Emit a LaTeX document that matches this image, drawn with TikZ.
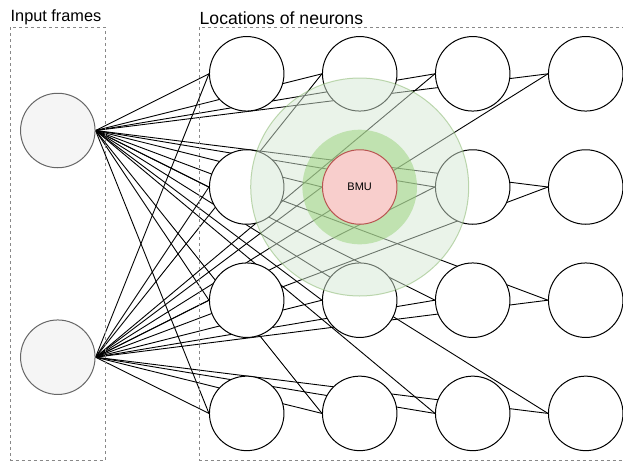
\documentclass[tikz,border=0pt]{standalone}
\usepackage{fontspec}
\setmainfont{Liberation Sans}
\usetikzlibrary{backgrounds}
\definecolor{inputfill}{HTML}{F5F5F5}
\definecolor{inputline}{HTML}{666666}
\definecolor{framegray}{HTML}{888888}
\definecolor{zonefill}{HTML}{D5E8D4}
\definecolor{zoneline}{HTML}{82B366}
\definecolor{corefill}{HTML}{97D077}
\definecolor{bmufill}{HTML}{F8CECC}
\definecolor{bmuline}{HTML}{B85450}
\begin{document}
\begin{tikzpicture}[x=1pt,y=-1pt,
  neuron/.style={circle,draw=black,fill=white,line width=1pt,minimum size=74.5pt,inner sep=0pt},
  inputcell/.style={circle,draw=inputline,fill=inputfill,line width=1pt,minimum size=74.5pt,inner sep=0pt},
  bmucell/.style={circle,draw=bmuline,fill=bmufill,line width=1pt,minimum size=74.5pt,inner sep=0pt,
    font=\fontsize{11}{13}\selectfont},
  link/.style={draw=black,line width=0.9pt},
  groupbox/.style={draw=framegray,line width=1pt,dash pattern=on 3pt off 3pt},
  caption/.style={anchor=base west,inner sep=0pt},
  zone/.style={circle,fill=zonefill,draw=zoneline,line width=1pt,opacity=0.5,inner sep=0pt},
  core/.style={circle,fill=corefill,draw=none,opacity=0.5,inner sep=0pt}]
\useasboundingbox (0,0) rectangle (623,461);

% group frames and their titles
\draw[groupbox] (10.5,27) rectangle (105,460);
\draw[groupbox] (199.5,27) rectangle (630,460);
\node[caption,font=\fontsize{16.3}{19}\selectfont] (t1) at (10.5,21.7) {Input frames};
\node[caption,font=\fontsize{17.6}{20}\selectfont] (t2) at (199.5,24) {Locations of neurons};

% input frames
\node[inputcell] (in1) at (57.8,130.5) {};
\node[inputcell] (in2) at (57.8,357.2) {};

% 4x4 grid of neurons (the BMU cell is placed later, above the neighbourhood)
\foreach \r in {1,...,4}{
  \foreach \c in {1,...,4}{
    \ifnum\r\c=22\relax
      \coordinate (n\r\c) at ({246.7+113*(\c-1)},{73.8+113.2*(\r-1)});
    \else
      \node[neuron] (n\r\c) at ({246.7+113*(\c-1)},{73.8+113.2*(\r-1)}) {};
    \fi
  }
}

% neighbourhood of the best matching unit
\node[zone,minimum size=218pt] (hood) at (n22) {};
\node[core,minimum size=114.6pt] (inner) at (n22) {};
\node[bmucell] (bmu) at (n22) {BMU};

% every input is linked to every neuron
\begin{scope}[on background layer]
  \foreach \i in {1,2}{
    \foreach \r in {1,...,4}{
      \foreach \c in {1,...,4}{
        \ifnum\r\c=22\relax
          \draw[link] (in\i.east) -- (bmu.west);
        \else
          \draw[link] (in\i.east) -- (n\r\c.west);
        \fi
      }
    }
  }
\end{scope}
\end{tikzpicture}
\end{document}
